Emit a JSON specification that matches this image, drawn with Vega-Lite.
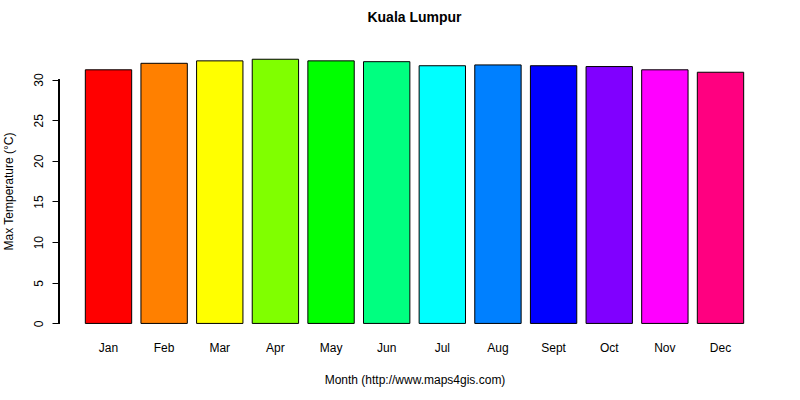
{
  "$schema": "https://vega.github.io/schema/vega-lite/v6.json",
  "width": 711,
  "height": 285,
  "autosize": {"type": "none"},
  "padding": {"left": 59, "top": 49, "right": 30, "bottom": 66},
  "background": "white",
  "title": {
    "text": "Kuala Lumpur",
    "font": "Liberation Sans",
    "fontSize": 14,
    "fontWeight": "bold",
    "color": "black",
    "anchor": "middle",
    "baseline": "alphabetic",
    "offset": 13
  },
  "data": {
    "values": [
      {"month": "Jan", "maxTemp": 31.2},
      {"month": "Feb", "maxTemp": 32.0},
      {"month": "Mar", "maxTemp": 32.3},
      {"month": "Apr", "maxTemp": 32.5},
      {"month": "May", "maxTemp": 32.3},
      {"month": "Jun", "maxTemp": 32.2},
      {"month": "Jul", "maxTemp": 31.7},
      {"month": "Aug", "maxTemp": 31.8},
      {"month": "Sept", "maxTemp": 31.7},
      {"month": "Oct", "maxTemp": 31.6},
      {"month": "Nov", "maxTemp": 31.2},
      {"month": "Dec", "maxTemp": 30.9}
    ]
  },
  "layer": [
    {
      "mark": {"type": "bar", "stroke": "black", "strokeWidth": 1, "opacity": 1},
      "encoding": {
        "x": {
          "field": "month",
          "type": "nominal",
          "sort": null,
          "scale": {"paddingInner": 0.1667, "paddingOuter": 0.473},
          "axis": {
            "domain": false,
            "ticks": false,
            "labelAngle": 0,
            "labelFont": "Liberation Sans",
            "labelFontSize": 12,
            "labelColor": "black",
            "labelPadding": 8,
            "title": "Month (http://www.maps4gis.com)",
            "titleFont": "Liberation Sans",
            "titleFontSize": 12,
            "titleFontWeight": "normal",
            "titleColor": "black",
            "titleBaseline": "alphabetic",
            "titleY": 49
          }
        },
        "y": {
          "field": "maxTemp",
          "type": "quantitative",
          "scale": {"domain": [-1.3, 33.76], "nice": false, "zero": false},
          "axis": {
            "values": [0, 5, 10, 15, 20, 25, 30],
            "domain": false,
            "grid": false,
            "tickSize": 7,
            "tickColor": "black",
            "labelAngle": -90,
            "labelAlign": "center",
            "labelBaseline": "bottom",
            "labelPadding": 7,
            "labelFont": "Liberation Sans",
            "labelFontSize": 12,
            "labelColor": "black",
            "title": "Max Temperature (°C)",
            "titleFont": "Liberation Sans",
            "titleFontSize": 12,
            "titleFontWeight": "normal",
            "titleColor": "black",
            "titleAngle": -90,
            "titleAlign": "center",
            "titleBaseline": "alphabetic",
            "titleX": -47,
            "titleY": 142
          }
        },
        "y2": {"datum": 0},
        "color": {
          "field": "month",
          "type": "nominal",
          "sort": null,
          "scale": {
            "domain": ["Jan", "Feb", "Mar", "Apr", "May", "Jun", "Jul", "Aug", "Sept", "Oct", "Nov", "Dec"],
            "range": ["#FF0000", "#FF8000", "#FFFF00", "#80FF00", "#00FF00", "#00FF80", "#00FFFF", "#0080FF", "#0000FF", "#8000FF", "#FF00FF", "#FF0080"]
          },
          "legend": null
        }
      }
    },
    {
      "mark": {"type": "rule", "color": "black", "strokeWidth": 1},
      "encoding": {
        "x": {"value": 0},
        "y": {"datum": 0},
        "y2": {"datum": 30}
      }
    }
  ],
  "config": {
    "view": {"stroke": null}
  }
}
